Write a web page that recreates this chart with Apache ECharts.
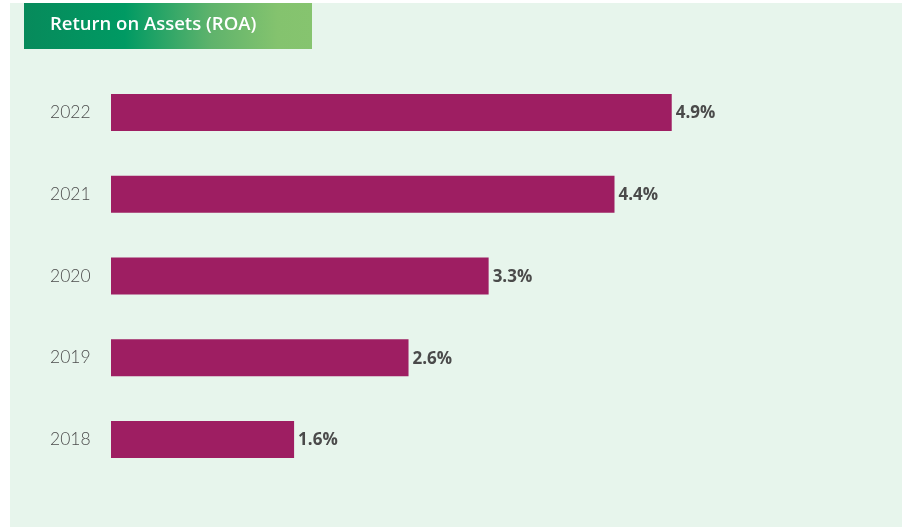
<!DOCTYPE html>
<html>
<head>
<meta charset="utf-8">
<script src="https://cdn.jsdelivr.net/npm/echarts@6/dist/echarts.min.js"></script>
<style>
  html, body { margin: 0; padding: 0; background: #ffffff; }
  #roaChart { width: 906px; height: 527px; }
</style>
</head>
<body>
<div id="roaChart"></div>
<script>
  // data
  var years = ['2018', '2019', '2020', '2021', '2022'];
  var roaValues = [1.6, 2.6, 3.3, 4.4, 4.9];
  var chartTitle = 'Return on Assets (ROA)';

  var roaChart = echarts.init(document.getElementById('roaChart'), null, { renderer: 'canvas' });

  var option = {
    backgroundColor: '#ffffff',
    animation: false,
    graphic: [
      // light green panel
      {
        type: 'rect',
        z: -10,
        shape: { x: 10, y: 3, width: 892, height: 530 },
        style: { fill: '#e7f5ec' }
      },
      // title banner
      {
        type: 'rect',
        z: 5,
        shape: { x: 24, y: 3, width: 288, height: 46 },
        style: {
          fill: new echarts.graphic.LinearGradient(0, 0, 1, 0, [
            { offset: 0, color: '#078a5b' },
            { offset: 0.35, color: '#009a63' },
            { offset: 0.65, color: '#5fb36c' },
            { offset: 0.88, color: '#84c36e' },
            { offset: 1, color: '#86c46f' }
          ])
        }
      },
      {
        type: 'text',
        z: 6,
        x: 50,
        y: 25,
        style: {
          text: chartTitle,
          fill: '#ffffff',
          verticalAlign: 'middle',
          font: '600 18.5px "Open Sans", sans-serif'
        }
      }
    ],
    grid: {
      left: 111,
      top: 71.6,
      width: 686.6,
      height: 408.8,
      containLabel: false
    },
    xAxis: {
      type: 'value',
      min: 0,
      max: 6,
      show: false
    },
    yAxis: {
      type: 'category',
      data: years,
      axisLine: { show: false },
      axisTick: { show: false },
      axisLabel: {
        align: 'left',
        margin: 61,
        color: '#4d4d4d',
        fontSize: 17.5,
        fontWeight: 300,
        fontFamily: 'Lato, sans-serif'
      }
    },
    series: [
      {
        type: 'bar',
        data: roaValues,
        barWidth: 37,
        itemStyle: { color: '#9e1e62' },
        label: {
          show: true,
          position: 'right',
          distance: 4,
          offset: [0, 1],
          formatter: function (p) { return p.value.toFixed(1) + '%'; },
          color: '#4a4a4a',
          fontSize: 17,
          fontWeight: 'bold',
          fontFamily: '"Open Sans", sans-serif'
        }
      }
    ]
  };

  roaChart.setOption(option);
</script>
</body>
</html>
